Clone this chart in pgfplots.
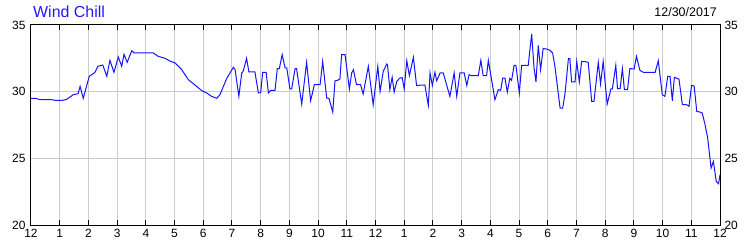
\documentclass[border=0pt]{standalone}
\usepackage{pgfplots}
\pgfplotsset{compat=1.18}
\usepackage{pgfplotstable}
\usepackage{fontspec}
\setmainfont{Liberation Sans}
\usetikzlibrary{calc}
\definecolor{linecol}{RGB}{20,20,255}
\definecolor{titlecol}{RGB}{40,20,255}

\pgfplotstableread{
h v
0.00 29.5
0.17 29.5
0.31 29.4
0.72 29.4
0.84 29.35
1.08 29.35
1.22 29.4
1.36 29.6
1.47 29.77
1.64 29.85
1.71 30.4
1.82 29.5
2.03 31.15
2.23 31.45
2.33 31.9
2.50 32.0
2.64 31.15
2.75 32.35
2.89 31.45
3.04 32.6
3.16 31.9
3.24 32.8
3.35 32.2
3.51 33.07
3.59 32.9
4.26 32.9
4.43 32.65
4.67 32.5
4.84 32.3
5.02 32.15
5.25 31.65
5.48 30.9
5.71 30.5
5.95 30.07
6.12 29.9
6.29 29.65
6.47 29.5
6.58 29.77
6.82 31.0
6.93 31.4
7.05 31.83
7.11 31.65
7.24 29.65
7.34 31.4
7.39 31.53
7.51 32.5
7.59 31.48
7.80 31.48
7.92 29.9
8.00 29.9
8.07 31.45
8.19 31.45
8.27 29.9
8.35 30.1
8.50 30.1
8.58 31.73
8.65 31.73
8.75 32.78
8.85 31.78
8.91 31.78
9.02 30.2
9.08 30.2
9.20 31.73
9.25 31.73
9.43 29.07
9.60 32.2
9.74 29.32
9.87 30.52
10.07 30.52
10.16 32.27
10.30 29.52
10.38 29.5
10.51 28.47
10.59 30.82
10.68 30.85
10.76 30.95
10.82 32.78
10.94 32.78
11.09 30.2
11.17 31.4
11.23 31.65
11.34 30.52
11.48 30.52
11.57 29.82
11.75 31.9
11.92 29.02
12.08 31.9
12.16 30.02
12.27 31.53
12.39 32.07
12.42 32.0
12.50 30.15
12.58 31.08
12.65 29.97
12.74 30.77
12.85 31.02
12.93 31.05
13.00 30.2
13.09 32.32
13.18 31.2
13.32 32.58
13.43 30.47
13.72 30.5
13.84 28.97
13.90 31.4
13.98 30.47
14.07 31.45
14.13 30.82
14.25 31.4
14.36 31.4
14.59 29.65
14.74 31.4
14.83 29.65
14.94 31.4
15.09 31.4
15.18 30.47
15.26 31.27
15.35 31.2
15.58 31.2
15.67 32.35
15.75 31.2
15.87 31.2
15.93 32.35
16.16 29.4
16.28 30.15
16.36 30.1
16.43 31.02
16.51 31.02
16.59 29.97
16.68 31.0
16.74 30.85
16.83 31.98
16.89 31.98
17.01 29.9
17.09 31.98
17.32 31.98
17.44 34.33
17.52 31.83
17.59 30.73
17.67 33.47
17.75 31.65
17.84 33.23
17.96 33.2
18.08 33.1
18.17 32.9
18.25 31.9
18.43 28.77
18.52 28.77
18.60 29.82
18.72 32.48
18.77 32.48
18.83 30.73
18.95 30.73
19.01 32.27
19.10 30.73
19.18 32.27
19.30 32.25
19.41 32.2
19.53 29.27
19.61 29.27
19.76 32.2
19.84 30.57
19.93 32.27
20.07 29.07
20.20 30.2
20.25 30.2
20.37 31.98
20.43 30.22
20.52 30.22
20.60 31.73
20.67 30.15
20.78 30.15
20.86 31.73
21.01 31.7
21.09 32.65
21.21 31.6
21.33 31.45
21.74 31.45
21.85 32.32
21.99 29.77
22.08 29.65
22.18 31.15
22.26 31.15
22.34 29.32
22.41 31.08
22.49 31.0
22.57 30.95
22.69 29.02
22.84 29.02
22.92 28.9
23.01 30.47
23.10 30.42
23.19 28.52
23.30 28.47
23.38 28.4
23.48 27.52
23.57 26.52
23.69 24.27
23.77 24.77
23.87 23.27
23.95 23.1
24.00 23.77
}\windchill

\begin{document}
\begin{tikzpicture}[x=1bp,y=1bp]
\pgfplotsset{
  every axis/.append style={
    scale only axis, width=689bp, height=200bp,
    xmin=0, xmax=24, ymin=20, ymax=35,
    tick label style={font=\fontsize{12}{14}\selectfont, text=black},
    /pgf/number format/assume math mode=true,
  }
}
\begin{axis}[name=ax, at={(0,0)}, anchor=south west,
  axis line style={line width=1bp, black},
  xtick={0,...,24},
  xticklabels={12,1,2,3,4,5,6,7,8,9,10,11,12,1,2,3,4,5,6,7,8,9,10,11,12},
  ytick={20,25,30,35},
  yticklabels={20,25,30,35},
  ytick pos=left,
  xtick pos=both,
  xticklabel pos=bottom,
  tick align=inside,
  major tick length=5bp,
  xtick style={black, line width=1bp},
  ytick style={draw=none},
  grid=major,
  grid style={draw=black!20, line width=1bp},
  yticklabel style={xshift=-2bp},
  xticklabel style={yshift=-1bp},
]
\addplot[linecol, line width=1bp, mark=none] table[x=h, y=v] {\windchill};
\end{axis}
\begin{axis}[at={(0,0)}, anchor=south west,
  axis x line=none, axis y line*=right,
  axis line style={draw=none},
  ytick={20,25,30,35},
  yticklabels={20,25,30,35},
  ytick style={draw=none},
  yticklabel style={xshift=1bp},
]
\addplot[draw=none] coordinates {(0,20)};
\end{axis}
\node[anchor=base west, text=titlecol, font=\fontsize{16}{18}\selectfont, inner sep=0pt]
  at ($(ax.north west)+(2bp,7.7bp)$) {Wind Chill};
\node[anchor=base east, text=black, font=\fontsize{12.5}{14}\selectfont, inner sep=0pt]
  at ($(ax.north east)+(-3bp,8.3bp)$) {12/30/2017};
\pgfresetboundingbox
\path[use as bounding box] ($(ax.south west)+(-31bp,-25bp)$) rectangle ($(ax.north east)+(30bp,25bp)$);
\end{tikzpicture}
\end{document}
